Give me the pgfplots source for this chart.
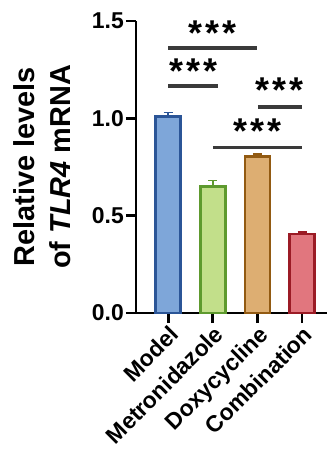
\documentclass[border=0pt]{standalone}
\usepackage{pgfplots}
\pgfplotsset{compat=1.18}
\usepackage{fontspec}
\setmainfont{Liberation Sans}
\definecolor{mfill}{HTML}{7EA6D9}
\definecolor{medge}{HTML}{2B5597}
\definecolor{tfill}{HTML}{C2DF8A}
\definecolor{tedge}{HTML}{5E9A2E}
\definecolor{dfill}{HTML}{DDAE72}
\definecolor{dedge}{HTML}{925A12}
\definecolor{cfill}{HTML}{E1767E}
\definecolor{cedge}{HTML}{9B1B25}
\definecolor{sig}{HTML}{3A3A3A}
\newcommand{\stars}{\fontsize{36}{36}\selectfont\bfseries *\hspace{3bp}*\hspace{3bp}*}
\pgfplotsset{
  mybar/.style n args={2}{ybar, bar width=25bp, bar shift=0pt, fill=#1, draw=#2, line width=2.6bp,
    error bars/.cd, y dir=plus, y explicit,
    error bar style={line width=1.6bp, #2},
    error mark options={rotate=90, mark size=4.5bp, line width=1.6bp, #2}}
}
\begin{document}
\begin{tikzpicture}
\begin{axis}[name=ax, scale only axis, width=191bp, height=292bp,
  xmin=-0.72, xmax=3.56, ymin=0, ymax=1.5,
  axis lines*=left, axis line style={line width=2.8bp, black},
  ytick={0,0.5,1.0,1.5},
  /pgf/number format/assume math mode=true,
  /pgf/number format/fixed, /pgf/number format/fixed zerofill, /pgf/number format/precision=1,
  yticklabel style={font=\fontsize{23}{23}\selectfont\bfseries, inner sep=2bp},
  xtick={0,1,2,3}, xticklabels={Model,Metronidazole,Doxycycline,Combination},
  xticklabel style={rotate=45, anchor=north east, font=\fontsize{23}{23}\selectfont\bfseries, inner sep=1bp},
  tick style={line width=2.8bp, black}, major tick length=10bp, tick align=outside,
  ylabel={Relative levels\\of \textit{TLR4} mRNA},
  ylabel style={align=center, font=\fontsize{29}{36}\selectfont\bfseries, yshift=16bp},
  clip=false]
\addplot[mybar={mfill}{medge}] coordinates {(0,1.01) +- (0,0.02)};
\addplot[mybar={tfill}{tedge}] coordinates {(1,0.65) +- (0,0.03)};
\addplot[mybar={dfill}{dedge}] coordinates {(2,0.805) +- (0,0.012)};
\addplot[mybar={cfill}{cedge}] coordinates {(3,0.405) +- (0,0.012)};
\draw[sig, line width=3.8bp] (axis cs:0,1.36) -- (axis cs:2,1.36);
\draw[sig, line width=3.8bp] (axis cs:0,1.165) -- (axis cs:1.12,1.165);
\draw[sig, line width=3.8bp] (axis cs:2.01,1.06) -- (axis cs:3,1.06);
\draw[sig, line width=3.8bp] (axis cs:1.0,0.85) -- (axis cs:3,0.85);
\node at (axis cs:1.0,1.435) {\stars};
\node at (axis cs:0.57,1.24) {\stars};
\node at (axis cs:2.5,1.145) {\stars};
\node at (axis cs:2.0,0.935) {\stars};
\end{axis}
\pgfresetboundingbox
\path[use as bounding box] ([xshift=-136bp,yshift=-148bp]ax.south west) rectangle ([yshift=21bp]ax.north east);
\end{tikzpicture}
\end{document}
